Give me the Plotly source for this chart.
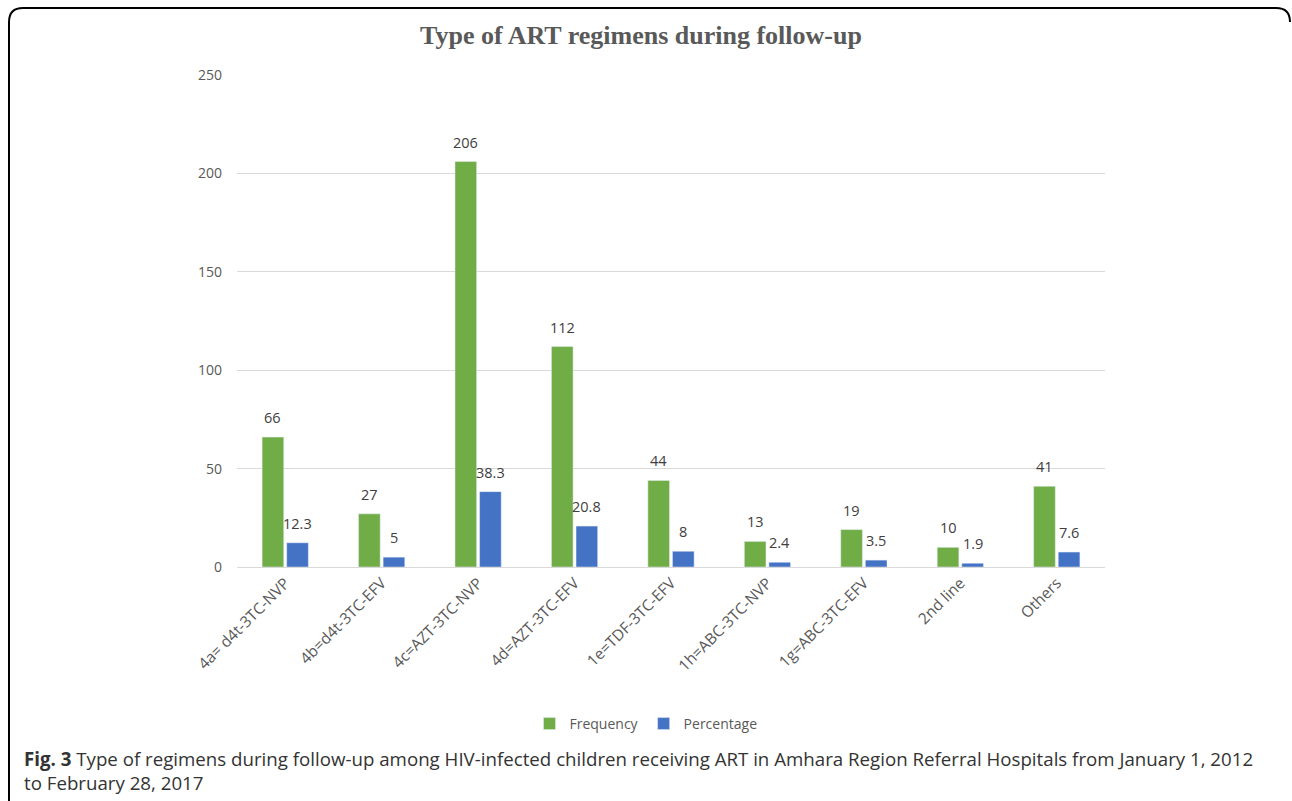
import plotly.graph_objects as go

categories = ["4a= d4t-3TC-NVP", "4b=d4t-3TC-EFV", "4c=AZT-3TC-NVP", "4d=AZT-3TC-EFV",
              "1e=TDF-3TC-EFV", "1h=ABC-3TC-NVP", "1g=ABC-3TC-EFV", "2nd line", "Others"]
frequency = [66, 27, 206, 112, 44, 13, 19, 10, 41]
percentage = [12.3, 5, 38.3, 20.8, 8, 2.4, 3.5, 1.9, 7.6]
y_ticks = [0, 50, 100, 150, 200, 250]

W, H = 1292, 801
L, R, T, B = 237, 187, 75, 234
PW, PH = W - L - R, H - T - B
BARGAP, GROUPGAP = 0.49, 0.12

def X(px):
    return (px - L) / PW

def Y(py):
    return (H - B - py) / PH

lab_font = dict(family="Open Sans", size=14.5, color="#404040")

fig = go.Figure()
fig.add_trace(go.Bar(x=categories, y=frequency, name="Frequency", marker_color="#70AD47"))
fig.add_trace(go.Bar(x=categories, y=percentage, name="Percentage", marker_color="#4472C4"))

# value labels above each bar (positions derived from the group layout)
slot = (1 - BARGAP) / 2
annotations = []
for series, sign in ((frequency, -1), (percentage, 1)):
    for i, v in enumerate(series):
        annotations.append(dict(x=i + sign * slot / 2, y=v, xref="x", yref="y",
                                text=str(v), showarrow=False, yanchor="bottom",
                                yshift=8, font=lab_font))

border = (f"M {X(9)},{Y(806)} L {X(9)},{Y(22)} Q {X(9)},{Y(8)} {X(23)},{Y(8)} "
          f"L {X(1276)},{Y(8)} Q {X(1290)},{Y(8)} {X(1290)},{Y(22)}")

annotations.append(dict(text="<b>Fig. 3</b> Type of regimens during follow-up among HIV-infected children "
                             "receiving ART in Amhara Region Referral Hospitals from January 1, 2012"
                             "<br>to February 28, 2017",
                        xref="paper", yref="paper", x=X(22), y=Y(744), xanchor="left", yanchor="top",
                        align="left", showarrow=False,
                        font=dict(family="Open Sans", size=18.7, color="#333333")))

fig.update_layout(
    width=W, height=H,
    margin=dict(l=L, r=R, t=T, b=B, pad=0),
    paper_bgcolor="white", plot_bgcolor="white",
    barmode="group", bargap=BARGAP, bargroupgap=GROUPGAP,
    title=dict(text="<b>Type of ART regimens during follow-up</b>",
               font=dict(family="Liberation Serif", size=26, color="#595959"),
               xref="paper", x=X(641), xanchor="center", y=1 - 35 / H, yanchor="middle"),
    xaxis=dict(tickangle=-45, tickfont=dict(family="Open Sans", size=15.5, color="#595959"),
               showline=True, linecolor="#d9d9d9", linewidth=1, ticks="", showgrid=False),
    yaxis=dict(range=[0, 250], tickvals=y_ticks, showgrid=True, gridcolor="#d9d9d9",
               gridwidth=1, zeroline=False, showline=False, ticks="", ticklen=0,
               ticklabelstandoff=14,
               tickfont=dict(family="Open Sans", size=14, color="#595959")),
    legend=dict(orientation="h", x=X(646), xanchor="center", y=Y(724), yanchor="middle",
                font=dict(family="Open Sans", size=14, color="#595959"),
                itemwidth=30, traceorder="normal"),
    showlegend=True,
    shapes=[dict(type="path", path=border, xref="paper", yref="paper",
                 line=dict(color="black", width=2))],
    annotations=annotations,
)

fig.write_html("out.html")
